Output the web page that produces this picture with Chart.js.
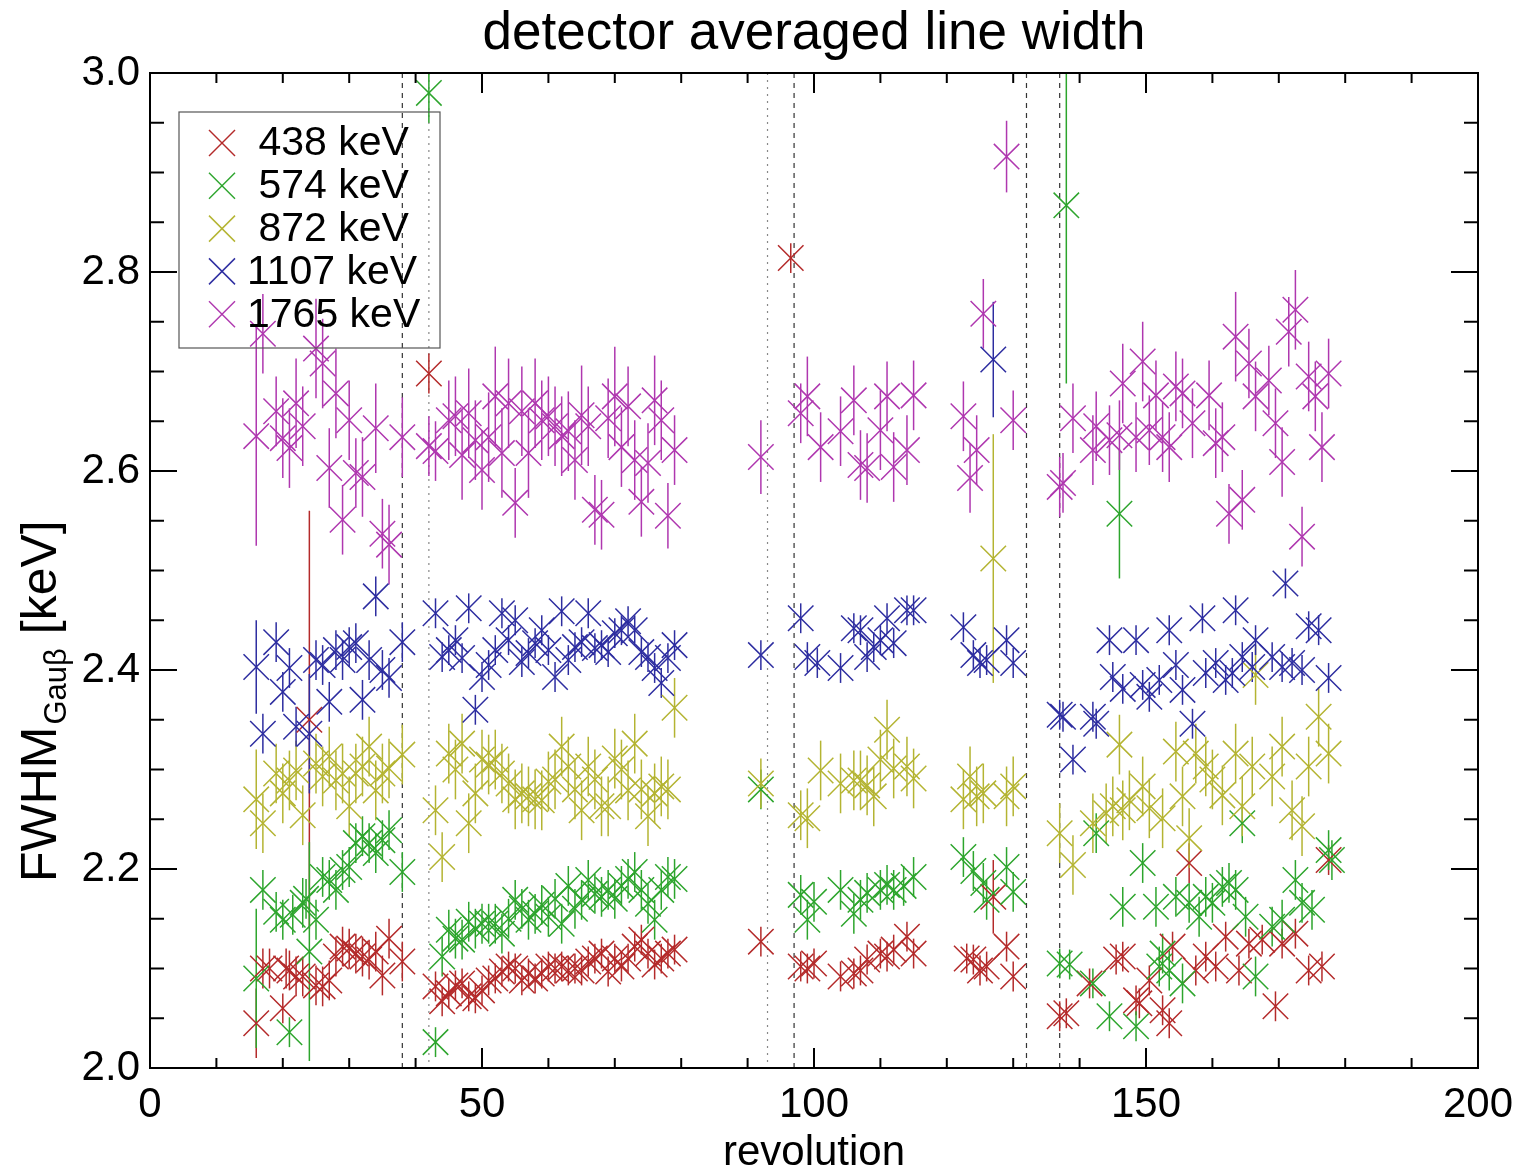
<!DOCTYPE html>
<html>
<head>
<meta charset="utf-8">
<title>detector averaged line width</title>
<script src="https://cdn.jsdelivr.net/npm/chart.js@4/dist/chart.umd.min.js"></script>
<style>
  html, body { margin: 0; padding: 0; background: #ffffff; }
  #wrap { width: 1518px; height: 1173px; }
</style>
</head>
<body>
<div id="wrap"><canvas id="c" width="1518" height="1173"></canvas></div>
<script>
// Detector averaged line width (FWHM) per revolution for five gamma lines.
// Each entry: [revolution, FWHM in keV, 1-sigma error in keV]

const line438 = [
  [16,2.045,0.035],[17,2.100,0.02],[18,2.100,0.02],[20,2.060,0.015],[20.5,2.100,0.02],[21,2.098,0.02],[22,2.092,0.02],[23,2.092,0.02],
  [24,2.350,0.21],[25,2.083,0.02],[26,2.082,0.02],[27,2.088,0.02],[28,2.112,0.02],[29,2.122,0.02],[30,2.120,0.02],[31,2.115,0.02],
  [32,2.112,0.02],[33,2.109,0.02],[34,2.117,0.02],[35,2.093,0.02],[36,2.130,0.02],[38,2.107,0.02],
  [42,2.698,0.02],[43,2.082,0.015],[44,2.067,0.015],[45,2.075,0.015],[46,2.083,0.015],[47,2.085,0.015],[48,2.072,0.015],[49,2.070,0.015],
  [50,2.078,0.015],[51,2.088,0.015],[52,2.090,0.015],[53,2.097,0.015],[54,2.102,0.015],[55,2.100,0.015],[56,2.088,0.015],[57,2.095,0.015],
  [58,2.090,0.015],[59,2.095,0.015],[60,2.102,0.015],[61,2.100,0.015],[62,2.102,0.015],[63,2.098,0.015],[64,2.100,0.015],[65,2.098,0.015],
  [66,2.107,0.015],[67,2.110,0.015],[68,2.115,0.015],[69,2.097,0.015],[70,2.110,0.015],[71,2.102,0.015],[72,2.110,0.015],[73,2.122,0.015],
  [74,2.129,0.015],[75,2.115,0.015],[76,2.104,0.015],[77,2.110,0.015],[78,2.115,0.015],[79,2.119,0.015],
  [92,2.127,0.015],[96.5,2.814,0.015],
  [98,2.102,0.015],[99,2.100,0.015],[100,2.105,0.015],[104,2.092,0.015],[106,2.095,0.015],[107,2.098,0.015],[108,2.109,0.015],
  [110,2.115,0.015],[111,2.112,0.015],[112,2.119,0.015],[114,2.132,0.015],[115,2.115,0.015],
  [123,2.110,0.015],[124,2.109,0.015],[125,2.098,0.015],[126,2.102,0.015],[127,2.172,0.037],[129,2.122,0.015],[130,2.092,0.015],
  [137,2.052,0.015],[138,2.055,0.015],[141.5,2.085,0.015],[145.5,2.109,0.015],[146.5,2.112,0.015],[148.5,2.068,0.015],[149,2.065,0.015],
  [150.5,2.088,0.015],[152.5,2.058,0.015],[153.5,2.045,0.015],[154,2.122,0.015],[156.5,2.206,0.02],[157.5,2.098,0.015],[159,2.112,0.015],
  [160.5,2.102,0.015],[162,2.132,0.015],[164,2.098,0.015],[165.5,2.125,0.015],[167.5,2.129,0.015],[169.5,2.062,0.015],[170.5,2.125,0.015],
  [172.5,2.135,0.015],[174.5,2.098,0.015],[176.5,2.102,0.015],[177.5,2.209,0.015]
];

const line574 = [
  [16,2.090,0.07],[17,2.179,0.02],[19,2.157,0.02],[20,2.149,0.02],[21,2.036,0.015],[21.5,2.154,0.02],[23,2.166,0.025],[23.5,2.170,0.02],
  [24,2.117,0.11],[25,2.149,0.02],[26,2.192,0.02],[27,2.189,0.02],[28,2.179,0.02],[29,2.199,0.02],[30,2.202,0.02],[31,2.226,0.02],
  [32,2.233,0.02],[33,2.226,0.02],[34,2.216,0.02],[35,2.229,0.02],[36,2.239,0.02],[38,2.197,0.02],
  [42,2.980,0.03],[43,2.026,0.015],[44,2.112,0.02],[45,2.139,0.02],[46,2.130,0.02],[47,2.129,0.02],[48,2.147,0.02],[49,2.140,0.02],
  [50,2.145,0.02],[51,2.145,0.02],[52,2.145,0.02],[53,2.135,0.02],[54,2.150,0.02],[55,2.169,0.02],[56,2.160,0.02],[57,2.149,0.02],
  [58,2.155,0.02],[59,2.164,0.02],[60,2.152,0.02],[61,2.170,0.02],[62,2.145,0.02],[63,2.183,0.02],[64,2.160,0.02],[65,2.169,0.02],
  [66,2.189,0.02],[67,2.175,0.02],[68,2.172,0.02],[69,2.179,0.02],[70,2.170,0.02],[71,2.183,0.02],[72,2.190,0.02],[73,2.197,0.02],
  [74,2.179,0.02],[75,2.165,0.02],[76,2.149,0.02],[77,2.179,0.02],[78,2.192,0.02],[79,2.190,0.02],
  [92,2.280,0.02],
  [98,2.174,0.02],[99,2.149,0.02],[100,2.167,0.02],[104,2.179,0.02],[106,2.155,0.02],[107,2.169,0.02],[108,2.176,0.02],
  [110,2.179,0.02],[111,2.184,0.02],[112,2.179,0.02],[113.5,2.183,0.02],[115,2.192,0.02],
  [122.5,2.212,0.02],[124,2.198,0.02],[125.5,2.186,0.02],[126,2.169,0.02],[129,2.202,0.02],[130,2.177,0.02],
  [137,2.105,0.015],[138,2.867,0.179],[138.5,2.104,0.015],[142,2.085,0.015],[142.5,2.236,0.02],[144.5,2.052,0.015],[146,2.557,0.065],
  [146.5,2.162,0.02],[148.5,2.042,0.015],[149.5,2.206,0.02],[151.5,2.162,0.02],[152,2.102,0.02],[152.5,2.115,0.02],[153.5,2.098,0.02],
  [154.5,2.172,0.02],[155.5,2.085,0.02],[156.5,2.166,0.02],[158,2.152,0.02],[159,2.172,0.02],[160,2.166,0.02],[161.5,2.182,0.02],
  [162.5,2.186,0.02],[163.5,2.179,0.02],[164.5,2.246,0.02],[165,2.152,0.02],[166.5,2.092,0.02],[169,2.142,0.02],[170.5,2.149,0.02],
  [172.5,2.189,0.02],[173.5,2.166,0.02],[175,2.159,0.02],[177.5,2.219,0.02],[178,2.209,0.02]
];

const line872 = [
  [16,2.270,0.05],[17,2.246,0.03],[19,2.296,0.03],[20,2.276,0.03],[21,2.289,0.03],[22,2.299,0.03],[23,2.254,0.03],[25,2.306,0.03],
  [26,2.293,0.03],[27,2.313,0.03],[28,2.289,0.03],[29,2.296,0.03],[30,2.263,0.03],[31,2.296,0.03],[32,2.303,0.03],[33,2.323,0.03],
  [34,2.279,0.03],[35,2.296,0.03],[36,2.301,0.03],[38,2.315,0.03],
  [43,2.259,0.025],[44,2.212,0.025],[45,2.316,0.03],[46,2.300,0.03],[47,2.326,0.03],[48,2.246,0.03],[49,2.276,0.03],[50,2.310,0.03],
  [51,2.305,0.03],[52,2.310,0.03],[53,2.296,0.03],[54,2.286,0.03],[55,2.270,0.03],[56,2.276,0.03],[57,2.273,0.03],[58,2.270,0.03],
  [59,2.269,0.03],[60,2.288,0.03],[61,2.290,0.03],[62,2.323,0.03],[63,2.303,0.03],[64,2.280,0.03],[65,2.259,0.03],[66,2.303,0.03],
  [67,2.290,0.03],[68,2.263,0.03],[69,2.263,0.03],[70,2.311,0.03],[71,2.300,0.03],[72,2.279,0.03],[73,2.326,0.03],[74,2.280,0.03],
  [75,2.253,0.03],[76,2.276,0.03],[77,2.283,0.03],[78,2.280,0.03],[79,2.362,0.03],
  [92,2.286,0.025],
  [98,2.254,0.025],[99,2.251,0.03],[101,2.299,0.03],[104,2.286,0.03],[106,2.289,0.03],[107,2.289,0.03],[108,2.284,0.03],
  [109,2.273,0.03],[110,2.310,0.03],[111,2.340,0.03],[112,2.301,0.03],[114,2.303,0.03],[115,2.291,0.03],
  [122.5,2.270,0.03],[123.5,2.293,0.03],[124.5,2.273,0.03],[125.5,2.276,0.03],[127,2.512,0.125],[129,2.273,0.03],[130,2.283,0.03],
  [137,2.236,0.03],[139,2.204,0.03],[142,2.246,0.03],[144,2.256,0.03],[145,2.263,0.03],[146,2.325,0.03],[146.5,2.259,0.03],
  [147.5,2.269,0.03],[149.5,2.283,0.03],[150.5,2.261,0.03],[152.5,2.251,0.03],[154.5,2.318,0.03],[155.5,2.273,0.03],[156.5,2.231,0.03],
  [157.5,2.316,0.03],[159,2.303,0.03],[160,2.290,0.03],[161.5,2.274,0.03],[163.5,2.316,0.03],[164.5,2.263,0.03],[166,2.303,0.03],
  [166.5,2.395,0.03],[169,2.293,0.03],[170.5,2.323,0.03],[172,2.259,0.03],[173.5,2.243,0.03],[174.5,2.303,0.03],[176,2.353,0.03],
  [177.5,2.316,0.03]
];

const line1107 = [
  [16,2.403,0.047],[17,2.336,0.02],[19,2.428,0.02],[20,2.378,0.02],[21,2.402,0.02],[22,2.343,0.02],[24,2.336,0.06],[25,2.410,0.02],
  [26,2.405,0.02],[27,2.368,0.02],[28,2.420,0.02],[29,2.410,0.02],[30,2.423,0.02],[31,2.427,0.02],[32,2.370,0.02],[33,2.410,0.02],
  [34,2.474,0.02],[35,2.400,0.02],[36,2.392,0.02],[38,2.428,0.02],
  [43,2.457,0.015],[44,2.413,0.015],[45,2.420,0.015],[46,2.430,0.015],[47,2.412,0.015],[48,2.462,0.015],[49,2.360,0.015],[50,2.393,0.015],
  [51,2.405,0.015],[52,2.420,0.015],[53,2.457,0.015],[54,2.430,0.015],[55,2.450,0.015],[56,2.408,0.015],[57,2.417,0.015],[58,2.427,0.015],
  [59,2.440,0.015],[60,2.420,0.015],[61,2.393,0.015],[62,2.459,0.015],[63,2.410,0.015],[64,2.423,0.015],[65,2.428,0.015],[66,2.457,0.015],
  [67,2.422,0.015],[68,2.425,0.015],[69,2.418,0.015],[70,2.437,0.015],[71,2.440,0.015],[72,2.449,0.015],[73,2.440,0.015],[74,2.418,0.015],
  [75,2.413,0.015],[76,2.402,0.015],[77,2.387,0.015],[78,2.412,0.015],[79,2.425,0.015],
  [92,2.415,0.015],
  [98,2.452,0.015],[99,2.413,0.015],[100.5,2.407,0.015],[104,2.402,0.015],[106,2.442,0.015],[107,2.440,0.015],[108,2.413,0.015],
  [109,2.423,0.015],[110,2.430,0.015],[111,2.452,0.015],[112,2.427,0.015],[114,2.460,0.015],[115,2.460,0.015],
  [122.5,2.443,0.015],[124,2.415,0.015],[125,2.407,0.015],[126,2.410,0.015],[127,2.712,0.058],[129,2.430,0.015],[130,2.407,0.015],
  [137,2.355,0.015],[137.5,2.353,0.015],[139,2.310,0.015],[142,2.353,0.015],[142.5,2.346,0.015],[144.5,2.430,0.015],[145,2.393,0.015],
  [146.5,2.381,0.015],[148.5,2.430,0.015],[149.5,2.385,0.015],[150.5,2.373,0.015],[152,2.390,0.015],[153.5,2.440,0.015],[154.5,2.405,0.015],
  [155.5,2.380,0.015],[157,2.346,0.015],[158.5,2.452,0.015],[159,2.397,0.015],[160.5,2.407,0.015],[162,2.390,0.015],[163,2.397,0.015],
  [163.5,2.460,0.015],[164.5,2.413,0.015],[166,2.403,0.015],[166.5,2.430,0.015],[169,2.413,0.015],[170.5,2.403,0.015],[171,2.487,0.015],
  [172,2.407,0.015],[173.5,2.400,0.015],[174.5,2.444,0.015],[176,2.440,0.015],[177.5,2.392,0.015]
];

const line1765 = [
  [16,2.635,0.11],[17,2.738,0.04],[19,2.660,0.035],[20,2.633,0.04],[21,2.623,0.04],[22,2.668,0.045],[23,2.645,0.04],[25,2.723,0.05],
  [26,2.708,0.045],[27,2.603,0.04],[28,2.678,0.045],[29,2.551,0.035],[30,2.651,0.04],[31,2.598,0.035],[32,2.594,0.04],[34,2.643,0.045],
  [35,2.537,0.035],[36,2.526,0.04],[38,2.634,0.04],
  [42,2.625,0.03],[43,2.620,0.03],[45,2.651,0.04],[46,2.655,0.04],[47,2.616,0.045],[48,2.658,0.045],[49,2.631,0.04],[50,2.601,0.04],
  [51,2.634,0.045],[52,2.675,0.05],[53,2.618,0.045],[54,2.668,0.045],[55,2.568,0.035],[56,2.660,0.045],[57,2.618,0.045],[58,2.668,0.045],
  [59,2.651,0.04],[60,2.655,0.04],[61,2.645,0.04],[62,2.635,0.04],[63,2.640,0.04],[64,2.611,0.04],[65,2.656,0.05],[66,2.645,0.04],
  [67,2.561,0.035],[68,2.556,0.035],[69,2.653,0.04],[70,2.675,0.05],[71,2.624,0.04],[72,2.665,0.04],[73,2.611,0.04],[74,2.569,0.035],
  [75,2.608,0.04],[76,2.671,0.045],[77,2.651,0.04],[78,2.555,0.033],[79,2.621,0.035],
  [92,2.614,0.037],
  [98,2.658,0.03],[99,2.675,0.04],[101,2.624,0.035],[104,2.640,0.035],[106,2.671,0.035],[107,2.606,0.035],[108,2.603,0.035],
  [110,2.641,0.04],[111,2.675,0.035],[112,2.604,0.035],[114,2.621,0.035],[115,2.676,0.035],
  [122.5,2.655,0.035],[123.5,2.593,0.035],[124.5,2.621,0.035],[125.5,2.758,0.035],[129,2.916,0.036],[130,2.651,0.03],
  [137,2.584,0.03],[137.5,2.588,0.03],[139,2.653,0.035],[142,2.621,0.035],[142.5,2.645,0.035],[144.5,2.631,0.035],[146,2.636,0.035],
  [146.5,2.688,0.04],[148.5,2.634,0.035],[149.5,2.710,0.04],[150.5,2.641,0.035],[151.5,2.676,0.035],[152.5,2.634,0.035],[153.5,2.624,0.035],
  [154.5,2.685,0.035],[155.5,2.678,0.035],[157,2.648,0.035],[159.5,2.676,0.035],[160.5,2.628,0.035],[161.5,2.634,0.035],[162.5,2.557,0.03],
  [163.5,2.735,0.045],[164.5,2.571,0.03],[165.5,2.708,0.035],[166.5,2.675,0.035],[168.5,2.691,0.035],[169.5,2.648,0.035],[170.5,2.609,0.035],
  [171.5,2.740,0.035],[172.5,2.762,0.04],[173.5,2.534,0.03],[174.5,2.695,0.035],[175.5,2.675,0.035],[176.5,2.624,0.035],[177.5,2.698,0.035]
];

// Line labels and colours, in plotting order
const lineLabels = [' 438 keV', ' 574 keV', ' 872 keV', '1107 keV', '1765 keV'];
const lineColors = ['rgb(180,42,42)', 'rgb(45,165,45)', 'rgb(180,180,50)', 'rgb(45,45,160)', 'rgb(175,55,175)'];
const lineSeries = [line438, line574, line872, line1107, line1765];

// Revolutions marked by vertical guide lines
const dashedRevs = [38, 97, 132, 137];
const dottedRevs = [42, 93];

const FONT = "'Liberation Sans', Arial, Helvetica, sans-serif";

// Datasets are drawn last-index-first, so reverse to keep 1765 keV on top
const datasets = lineSeries.map((s, i) => ({
  label: lineLabels[i].trim(),
  data: s.map(([x, y, e]) => ({ x, y, e })),
  borderColor: lineColors[i],
  backgroundColor: lineColors[i],
  pointStyle: 'crossRot',
  pointRadius: 18,
  pointHoverRadius: 18,
  pointBorderWidth: 1.5,
  showLine: false
})).reverse();

function seg(ctx, x1, y1, x2, y2) {
  ctx.beginPath(); ctx.moveTo(x1, y1); ctx.lineTo(x2, y2); ctx.stroke();
}

const decorations = {
  id: 'decorations',
  beforeDatasetsDraw(chart) {
    const { ctx, chartArea: a, scales: { x, y } } = chart;
    ctx.save();
    ctx.beginPath();
    ctx.rect(a.left, a.top, a.right - a.left, a.bottom - a.top);
    ctx.clip();
    // guide lines
    ctx.lineWidth = 1.2;
    ctx.strokeStyle = '#333';
    ctx.setLineDash([5, 5]);
    dashedRevs.forEach(r => { const px = x.getPixelForValue(r); seg(ctx, px, a.top, px, a.bottom); });
    ctx.strokeStyle = '#888';
    ctx.setLineDash([2, 5]);
    dottedRevs.forEach(r => { const px = x.getPixelForValue(r); seg(ctx, px, a.top, px, a.bottom); });
    ctx.setLineDash([]);
    // error bars, in plotting order
    ctx.lineWidth = 1.5;
    const metas = chart.getSortedVisibleDatasetMetas().slice().reverse();
    metas.forEach(meta => {
      const ds = chart.data.datasets[meta.index];
      ctx.strokeStyle = ds.borderColor;
      ds.data.forEach((p, j) => {
        const px = meta.data[j].x;
        seg(ctx, px, y.getPixelForValue(p.y + p.e), px, y.getPixelForValue(p.y - p.e));
      });
    });
    ctx.restore();
  },
  afterDraw(chart) {
    const { ctx, chartArea: a, scales: { x, y } } = chart;
    ctx.save();
    // frame
    ctx.strokeStyle = '#000';
    ctx.lineWidth = 2;
    ctx.strokeRect(a.left, a.top, a.right - a.left, a.bottom - a.top);
    // inward ticks on all four sides
    for (let v = 0; v <= 200; v += 10) {
      const px = x.getPixelForValue(v);
      const len = v % 50 === 0 ? 20 : 10;
      seg(ctx, px, a.bottom, px, a.bottom - len);
      seg(ctx, px, a.top, px, a.top + len);
    }
    for (let k = 0; k <= 20; k++) {
      const py = y.getPixelForValue(2 + k * 0.05);
      const len = k % 4 === 0 ? 27 : 14;
      seg(ctx, a.left, py, a.left + len, py);
      seg(ctx, a.right, py, a.right - len, py);
    }
    // title
    ctx.fillStyle = '#000';
    ctx.textAlign = 'center';
    ctx.textBaseline = 'alphabetic';
    ctx.font = '53px ' + FONT;
    ctx.fillText('detector averaged line width', (a.left + a.right) / 2, 49);
    // x axis title
    ctx.font = '42px ' + FONT;
    ctx.fillText('revolution', (a.left + a.right) / 2, 1165);
    // y axis title with subscript
    ctx.save();
    ctx.translate(56, 882);
    ctx.rotate(-Math.PI / 2);
    ctx.textAlign = 'left';
    ctx.font = '50px ' + FONT;
    ctx.fillText('FWHM', 0, 0);
    let w = ctx.measureText('FWHM').width;
    ctx.font = '31px ' + FONT;
    ctx.fillText('Gauβ', w + 2, 10);
    w += 2 + ctx.measureText('Gauβ').width;
    ctx.font = '50px ' + FONT;
    ctx.fillText(' [keV]', w, 0);
    ctx.restore();
    // legend
    const lx = 179, ly = 112, lw = 261, lh = 236;
    ctx.strokeStyle = '#555';
    ctx.lineWidth = 1.2;
    ctx.strokeRect(lx, ly, lw, lh);
    ctx.font = '41px ' + FONT;
    ctx.textAlign = 'left';
    ctx.textBaseline = 'middle';
    lineLabels.forEach((lab, i) => {
      const cy = 143 + i * 42.8;
      const cx = 222;
      ctx.strokeStyle = lineColors[i];
      ctx.lineWidth = 1.5;
      seg(ctx, cx - 13, cy - 13, cx + 13, cy + 13);
      seg(ctx, cx - 13, cy + 13, cx + 13, cy - 13);
      ctx.fillStyle = '#000';
      ctx.fillText(lab, 247, cy + 1);
    });
    ctx.restore();
  }
};

new Chart(document.getElementById('c'), {
  type: 'scatter',
  data: { datasets },
  options: {
    responsive: false,
    animation: false,
    devicePixelRatio: 1,
    layout: { padding: { top: 73, right: 40, left: 0, bottom: 0 } },
    plugins: { legend: { display: false }, tooltip: { enabled: false }, title: { display: false } },
    scales: {
      x: {
        type: 'linear', min: 0, max: 200,
        grid: { display: false, drawTicks: false },
        border: { display: false },
        ticks: { stepSize: 50, padding: 12, color: '#000', font: { family: FONT, size: 42 }, maxRotation: 0 },
        afterFit(scale) { scale.height = 105; scale.paddingLeft = 0; scale.paddingRight = 0; }
      },
      y: {
        type: 'linear', min: 2.0, max: 3.0,
        grid: { display: false, drawTicks: false },
        border: { display: false },
        ticks: { stepSize: 0.2, padding: 10, color: '#000', font: { family: FONT, size: 42 },
                 callback: v => Number(v).toFixed(1) },
        afterFit(scale) { scale.width = 150; scale.paddingTop = 0; scale.paddingBottom = 0; }
      }
    }
  },
  plugins: [decorations]
});
</script>
</body>
</html>
